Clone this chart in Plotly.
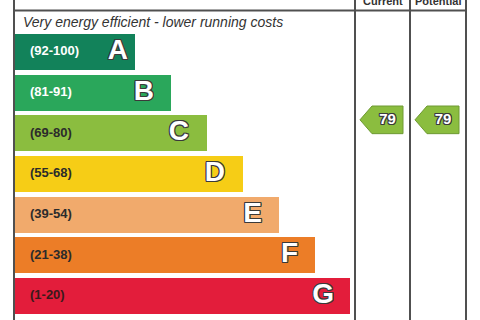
import plotly.graph_objects as go

# ---- data ----
bands = ["A", "B", "C", "D", "E", "F", "G"]
ranges = ["(92-100)", "(81-91)", "(69-80)", "(55-68)", "(39-54)", "(21-38)", "(1-20)"]
band_lo = [92, 81, 69, 55, 39, 21, 1]
band_hi = [100, 91, 80, 68, 54, 38, 20]
bar_len = [121, 157, 193, 229, 265, 301, 336]
colors = ["#12825a", "#2aa75b", "#8bbd3f", "#f6cd16", "#f1aa6c", "#ec7d27", "#e31d3b"]
range_text_colors = ["white", "white", "#2b2b2b", "#2b2b2b", "#2b2b2b", "#2b2b2b", "#3a1a1a"]
columns = ["Current", "Potential"]
scores = [79, 79]

# ---- layout constants ----
W, H = 480, 320
X0 = 14                      # left border pixel
col_edges = [341, 396, 452]  # in axis units (pixel - X0)
band_h = 0.885
y_top_px, spacing = 52, 40.67
y_range = [(H - y_top_px) / spacing, -y_top_px / spacing]
outline = "-1px -1px 0 #3a3a3a, 1px -1px 0 #3a3a3a, -1px 1px 0 #3a3a3a, 1px 1px 0 #3a3a3a, 0 1px 0 #3a3a3a, 0 -1px 0 #3a3a3a, 1px 0 0 #3a3a3a, -1px 0 0 #3a3a3a"

fig = go.Figure()
idx = list(range(len(bands)))
fig.add_trace(go.Bar(orientation="h", x=bar_len, y=idx, base=0, width=band_h,
                     marker=dict(color=colors, line=dict(width=0)), hoverinfo="skip"))

# range labels
fig.add_trace(go.Scatter(x=[16] * len(bands), y=idx, mode="text", text=ranges,
                         textposition="middle right",
                         textfont=dict(family="Liberation Sans, Arial", size=13, color=range_text_colors,
                                       weight="bold"), hoverinfo="skip"))
# band letters
letter_pad = [7, 17, 18, 18, 17, 17, 16]
fig.add_trace(go.Scatter(x=[L - p for L, p in zip(bar_len, letter_pad)], y=idx, mode="text", text=bands,
                         textposition="middle left",
                         textfont=dict(family="Liberation Sans, Arial", size=28, color="white",
                                       weight="bold", shadow=outline), hoverinfo="skip"))

# arrows for scores
def band_of(s):
    for i, (lo, hi) in enumerate(zip(band_lo, band_hi)):
        if lo <= s <= hi:
            return i
    return len(bands) - 1

for c, s in enumerate(scores):
    b = band_of(s)
    frac = (band_hi[b] + 0.5 - s) / (band_hi[b] - band_lo[b] + 1)
    yc = b - band_h / 2 + frac * band_h
    hh = 0.34
    left = col_edges[c] + 5
    right = col_edges[c + 1] - 7
    tip = 12
    xs = [left, left + tip, right, right, left + tip, left]
    ys = [yc, yc - hh, yc - hh, yc + hh, yc + hh, yc]
    fig.add_trace(go.Scatter(x=xs, y=ys, mode="lines", fill="toself", fillcolor=colors[b],
                             line=dict(color="#6e9a32", width=1), hoverinfo="skip"))
    fig.add_trace(go.Scatter(x=[(left + tip + right) / 2], y=[yc], mode="text", text=[str(s)],
                             textposition="middle center",
                             textfont=dict(family="Liberation Sans, Arial", size=15, color="white",
                                           weight="bold", shadow=outline), hoverinfo="skip"))

# grid lines
line_style = dict(color="#505050", width=2)
hy = 1 - 10.5 / H
shapes = [dict(type="line", xref="x", yref="paper", x0=0, x1=0, y0=0, y1=1, line=line_style)]
for e in col_edges:
    shapes.append(dict(type="line", xref="x", yref="paper", x0=e, x1=e, y0=0, y1=1, line=line_style))
shapes.append(dict(type="line", xref="x", yref="paper", x0=0, x1=col_edges[-1], y0=hy, y1=hy, line=line_style))

annotations = [dict(xref="x", yref="paper", x=7, y=1 - 22 / H, xanchor="left", yanchor="middle",
                    text="<i>Very energy efficient - lower running costs</i>", showarrow=False,
                    font=dict(family="Liberation Sans, Arial", size=14, color="#333333"))]
for c, name in enumerate(columns):
    annotations.append(dict(xref="x", yref="paper", x=(col_edges[c] + col_edges[c + 1]) / 2,
                            y=1 - 0.5 / H, xanchor="center", yanchor="middle",
                            text="<b>%s</b>" % name, showarrow=False,
                            font=dict(family="Liberation Sans, Arial", size=11, color="#333333")))

fig.update_layout(width=W, height=H, margin=dict(l=0, r=0, t=0, b=0),
                  paper_bgcolor="white", plot_bgcolor="white", showlegend=False,
                  xaxis=dict(range=[-X0, W - X0], visible=False, fixedrange=True),
                  yaxis=dict(range=y_range, visible=False, fixedrange=True),
                  shapes=shapes, annotations=annotations, bargap=0)
fig.write_html("out.html")
